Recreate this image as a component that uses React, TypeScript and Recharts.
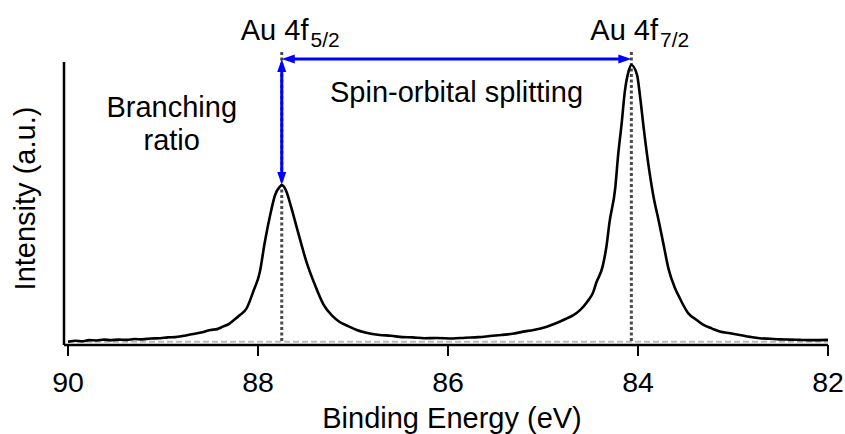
import { LineChart, Line, XAxis, YAxis, ReferenceLine } from 'recharts';

// Au 4f XPS spectrum, intensity normalised to the 4f7/2 maximum
const bindingEnergy = [
  90.0, 89.92, 89.85, 89.78, 89.7, 89.62, 89.55, 89.47, 89.38, 89.3, 89.22, 89.13, 89.03, 88.95,
  88.87, 88.78, 88.68, 88.6, 88.5, 88.43, 88.37, 88.3, 88.26, 88.19, 88.12, 88.05, 87.98, 87.93,
  87.87, 87.82, 87.77, 87.75, 87.7, 87.65, 87.58, 87.49, 87.4, 87.31, 87.22, 87.14, 87.05, 86.96,
  86.86, 86.72, 86.6, 86.48, 86.37, 86.25, 86.12, 85.95, 85.82, 85.68, 85.56, 85.44, 85.32, 85.21,
  85.1, 84.96, 84.85, 84.75, 84.68, 84.61, 84.53, 84.47, 84.44, 84.37, 84.33, 84.3, 84.24, 84.21,
  84.17, 84.14, 84.1, 84.07, 84.01, 83.98, 83.94, 83.89, 83.84, 83.78, 83.73, 83.68, 83.61, 83.56,
  83.47, 83.39, 83.31, 83.22, 83.14, 83.03, 82.93, 82.82, 82.72, 82.61, 82.51, 82.4, 82.3, 82.15,
  82.0,
];
const intensity = [
  -0.3, 0.1, -0.1, 0.3, 0.2, 0.5, 0.3, 0.5, 0.4, 0.7, 0.6, 0.9, 1.0, 1.3,
  1.4, 1.9, 2.5, 3.1, 4.0, 4.3, 5.2, 6.3, 7.4, 9.4, 11.8, 17.9, 25.1, 35.5,
  45.9, 52.9, 55.9, 56.5, 54.1, 48.4, 39.6, 28.7, 20.3, 13.2, 9.2, 6.9, 5.4, 4.0,
  3.0, 2.2, 1.9, 1.4, 1.3, 1.0, 1.1, 0.9, 1.2, 1.4, 1.8, 2.2, 2.6, 3.4,
  4.0, 5.2, 6.6, 8.2, 9.4, 11.2, 14.4, 17.8, 21.0, 27.3, 34.8, 43.0, 55.3, 67.0,
  79.5, 90.0, 97.6, 100.0, 96.4, 89.1, 77.1, 63.8, 52.9, 43.2, 34.8, 26.3, 19.1, 15.5,
  10.0, 7.8, 5.8, 4.5, 3.4, 2.8, 2.2, 1.5, 1.0, 0.8, 0.6, 0.5, 0.4, 0.3,
  0.4,
];
const xTicks = [90, 88, 86, 84, 82];

// peak positions and annotation levels
const peak52 = 87.75;
const peak72 = 84.07;
const peak52Height = 56.5;
const arrowLevel = 102.2;
const markerTop = 104.7;
const backgroundLevel = -0.25;

const spectrum = bindingEnergy.map((e, i) => ({ be: e, intensity: intensity[i] }));

const FONT = '"Liberation Sans", Arial, sans-serif';
const BLUE = '#0000ff';

function arrowHead(x: number, y: number, dx: number, dy: number, len = 13, half = 4.5) {
  // tip at (x, y), pointing along (dx, dy)
  const bx = x - dx * len;
  const by = y - dy * len;
  const px = -dy * half;
  const py = dx * half;
  return `${x},${y} ${bx + px},${by + py} ${bx - px},${by - py}`;
}

function DoubleArrow(props: any) {
  const { x1, y1, x2, y2 } = props;
  const L = Math.hypot(x2 - x1, y2 - y1) || 1;
  const dx = (x2 - x1) / L;
  const dy = (y2 - y1) / L;
  return (
    <g>
      <line x1={x1 + dx * 8} y1={y1 + dy * 8} x2={x2 - dx * 8} y2={y2 - dy * 8} stroke={BLUE} strokeWidth={3} />
      <polygon points={arrowHead(x1, y1, -dx, -dy)} fill={BLUE} />
      <polygon points={arrowHead(x2, y2, dx, dy)} fill={BLUE} />
    </g>
  );
}

function PeakMarker(sub: string) {
  return (props: any) => {
    const { x1, y1, x2, y2 } = props;
    const top = Math.min(y1, y2);
    return (
      <g>
        <line x1={x1} y1={y1} x2={x2} y2={y2} stroke="#4a4a4a" strokeWidth={3} strokeDasharray="3 2.5" />
        <text x={x1 - 41} y={top - 12} fontSize={29} fill="#000" fontFamily={FONT}>
          Au 4f
          <tspan fontSize={21} dy={7} dx={2}>
            {sub}
          </tspan>
        </text>
      </g>
    );
  };
}

function SplittingArrow(props: any) {
  const { x1, x2, y1 } = props;
  return (
    <g>
      <DoubleArrow {...props} />
      <text x={(x1 + x2) / 2} y={y1 + 43} textAnchor="middle" fontSize={29} fill="#000" fontFamily={FONT}>
        Spin-orbital splitting
      </text>
    </g>
  );
}

function BranchingArrow(props: any) {
  const { x1, y1 } = props;
  const top = Math.min(y1, props.y2);
  return (
    <g>
      <DoubleArrow {...props} />
      <text x={x1 - 110} y={top + 58} textAnchor="middle" fontSize={29} fill="#000" fontFamily={FONT}>
        Branching
      </text>
      <text x={x1 - 110} y={top + 91} textAnchor="middle" fontSize={29} fill="#000" fontFamily={FONT}>
        ratio
      </text>
    </g>
  );
}

export default function App() {
  return (
    <div style={{ position: 'absolute', left: 0, top: 0, width: 845, height: 434, background: '#fff', fontFamily: FONT }}>
      <LineChart width={845} height={434} data={spectrum} margin={{ top: 62, right: 17, bottom: 0, left: 0 }}>
        <XAxis
          dataKey="be"
          type="number"
          domain={[82, 90.042]}
          reversed
          allowDataOverflow
          ticks={xTicks}
          interval={0}
          height={89}
          tickSize={11}
          tickMargin={16}
          axisLine={{ stroke: '#000', strokeWidth: 2.5 }}
          tickLine={{ stroke: '#000', strokeWidth: 2 }}
          tick={{ fill: '#000', fontSize: 28.5, fontFamily: FONT }}
          label={{
            content: (p: any) => {
              const vb = p.viewBox;
              return (
                <text x={vb.x + vb.width / 2 + 6} y={428} textAnchor="middle" fontSize={29} fill="#000" fontFamily={FONT}>
                  Binding Energy (eV)
                </text>
              );
            },
          }}
        />
        <YAxis
          type="number"
          domain={[-1.45, 101.09]}
          allowDataOverflow
          width={64}
          tick={false}
          tickLine={false}
          axisLine={{ stroke: '#000', strokeWidth: 2.5 }}
          label={{
            content: (p: any) => {
              const vb = p.viewBox;
              const cx = vb.x + 35;
              const cy = vb.y + vb.height / 2 - 5;
              return (
                <text x={cx} y={cy} transform={`rotate(-90, ${cx}, ${cy})`} textAnchor="middle" fontSize={29} fill="#000" fontFamily={FONT}>
                  Intensity (a.u.)
                </text>
              );
            },
          }}
        />
        <ReferenceLine
          segment={[{ x: 90, y: backgroundLevel }, { x: 82, y: backgroundLevel }]}
          stroke="#bdbdbd"
          strokeWidth={2}
          strokeDasharray="6 3"
          ifOverflow="visible"
        />
        <ReferenceLine
          segment={[{ x: peak52, y: 0 }, { x: peak52, y: markerTop }]}
          ifOverflow="visible"
          shape={PeakMarker('5/2')}
        />
        <ReferenceLine
          segment={[{ x: peak72, y: 0 }, { x: peak72, y: markerTop }]}
          ifOverflow="visible"
          shape={PeakMarker('7/2')}
        />
        <Line
          type="monotone"
          dataKey="intensity"
          stroke="#000"
          strokeWidth={2.6}
          dot={false}
          isAnimationActive={false}
        />
        <ReferenceLine
          segment={[{ x: peak52, y: arrowLevel }, { x: peak72, y: arrowLevel }]}
          ifOverflow="visible"
          shape={SplittingArrow}
        />
        <ReferenceLine
          segment={[{ x: peak52, y: arrowLevel }, { x: peak52, y: peak52Height }]}
          ifOverflow="visible"
          shape={BranchingArrow}
        />
      </LineChart>
    </div>
  );
}
